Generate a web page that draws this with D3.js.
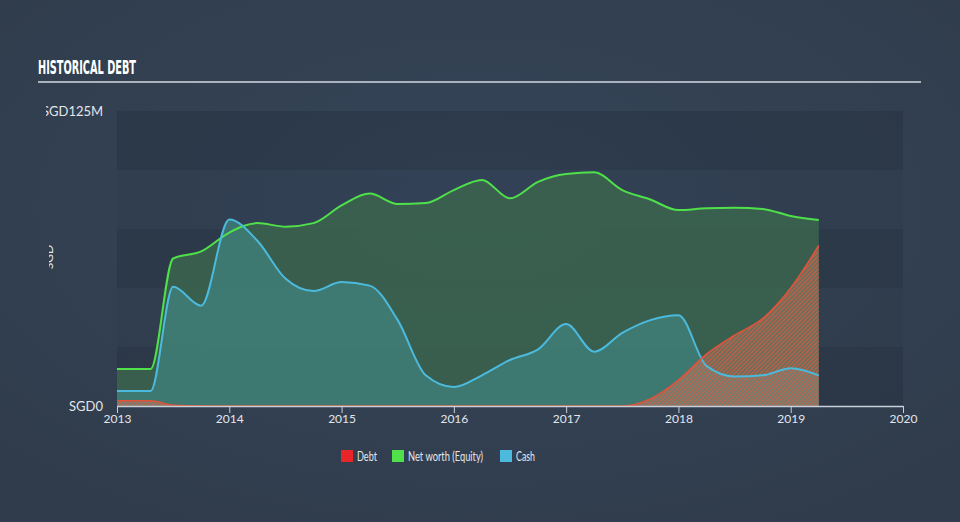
<!DOCTYPE html>
<html><head><meta charset="utf-8">
<script src="https://cdn.jsdelivr.net/npm/d3@7"></script>
<style>
html,body{margin:0;padding:0;background:#333f4f;}
svg{display:block;}
</style></head>
<body>
<svg id="c" width="960" height="522"></svg>
<script>
const dates = [2013.0,2013.25,2013.3,2013.5,2013.75,2014.0,2014.25,2014.5,2014.75,2015.0,2015.25,2015.5,2015.75,2016.0,2016.25,2016.5,2016.75,2017.0,2017.25,2017.5,2017.75,2018.0,2018.25,2018.5,2018.75,2019.0,2019.25];
const netWorth = [15.7,15.7,15.7,62.5,65.5,73.5,77.5,76,77.5,85,90,85.6,86,91.5,95.8,88,95,98.3,99,91.5,87.5,83,83.8,84,83.5,80.5,78.8];
const cash = [6.4,6.4,6.4,50.5,42.5,79,70,54,48.7,52.5,51,36.4,13,8,13,19.5,24,34.7,23,31,36.4,38.5,17,12.5,13,16,13];
const debt = [2.2,2.2,2.2,0.3,0,0,0,0,0,0,0,0,0,0,0,0,0,0,0,0,3,11,22,30,37,50,68];
const xTicks = [2013,2014,2015,2016,2017,2018,2019,2020];
const legendItems = ["Debt","Net worth (Equity)","Cash"];
const legendColors = ["#e8262a","#4fe04a","#4bbadd"];

const svg = d3.select("#c");
const W=960,H=522;
const defs = svg.append("defs");
const bg = defs.append("radialGradient").attr("id","bg").attr("cx","50%").attr("cy","40%").attr("r","70%");
bg.append("stop").attr("offset","0%").attr("stop-color","#36455a");
bg.append("stop").attr("offset","100%").attr("stop-color","#303c4b");
svg.append("rect").attr("width",W).attr("height",H).attr("fill","url(#bg)");

const pat = defs.append("pattern").attr("id","hatch").attr("patternUnits","userSpaceOnUse")
  .attr("width",3).attr("height",3).attr("patternTransform","rotate(45)");
pat.append("rect").attr("width",3).attr("height",3).attr("fill","rgba(150,150,140,0.35)");
pat.append("rect").attr("width",1.5).attr("height",3).attr("fill","rgba(232,90,55,0.75)");

const x = d3.scaleLinear().domain([2013,2020]).range([117,903]);
const y = d3.scaleLinear().domain([0,125]).range([406,111]);

// bands
const bands=[0,25,50,75,100];
svg.append("g").selectAll("rect").data(bands).join("rect")
  .attr("x",117).attr("width",786)
  .attr("y",d=>y(d+25)).attr("height",d=>y(d)-y(d+25))
  .attr("fill",(d,i)=> i%2===0 ? "rgba(30,38,50,0.28)" : "rgba(30,38,50,0.08)");

const curve = d3.curveMonotoneX;
const idx = d3.range(dates.length);
const area = arr => d3.area().x(i=>x(dates[i])).y0(y(0)).y1(i=>y(arr[i])).curve(curve);
const line = arr => d3.line().x(i=>x(dates[i])).y(i=>y(arr[i])).curve(curve);

svg.append("path").datum(idx).attr("d",area(netWorth)).attr("fill","#3b634f").attr("fill-opacity",0.9);
svg.append("path").datum(idx).attr("d",area(cash)).attr("fill","#40807a").attr("fill-opacity",0.8);
svg.append("path").datum(idx).attr("d",area(debt)).attr("fill","url(#hatch)");

svg.append("path").datum(idx).attr("d",line(netWorth)).attr("fill","none").attr("stroke","#4fe04a").attr("stroke-width",2);
svg.append("path").datum(idx).attr("d",line(cash)).attr("fill","none").attr("stroke","#4bbadd").attr("stroke-width",2);
svg.append("path").datum(idx).attr("d",line(debt)).attr("fill","none").attr("stroke","#e0533a").attr("stroke-width",1.6);

// x axis
const xa = svg.append("g").attr("transform","translate(0,406)")
  .call(d3.axisBottom(x).tickValues(xTicks).tickFormat(d3.format("d")).tickSize(7).tickSizeOuter(0));
xa.select(".domain").attr("stroke","#c8d0dc").attr("stroke-width",1.5);
xa.selectAll(".tick line").attr("stroke","#c8d0dc");
xa.selectAll("text").attr("fill","#e2e6ec").attr("font-size",12).attr("font-family","Lato, 'Open Sans', sans-serif").attr("dy","0.55em");

// y labels (left clipped)
defs.append("clipPath").attr("id","lclip").append("rect").attr("x",46).attr("y",0).attr("width",200).attr("height",522);
defs.append("clipPath").attr("id","lclip2").append("rect").attr("x",49).attr("y",0).attr("width",200).attr("height",522);
const yl = svg.append("g").attr("clip-path","url(#lclip)").attr("font-family","Lato, 'Open Sans', sans-serif").attr("fill","#e2e6ec");
yl.append("text").attr("x",42).attr("y",y(125)).attr("dy","0.35em").attr("font-size",13).text("SGD125M");
svg.append("g").attr("clip-path","url(#lclip2)").append("text").attr("transform","translate(53,257) rotate(-90)")
  .attr("text-anchor","middle").attr("font-size",12).attr("font-family","Lato, 'Open Sans', sans-serif").attr("fill","#e2e6ec").text("SGD");
svg.append("text").attr("x",103).attr("y",y(0)).attr("dy","0.35em").attr("text-anchor","end").attr("font-size",13)
  .attr("font-family","Lato, 'Open Sans', sans-serif").attr("fill","#e2e6ec").text("SGD0");

// title
svg.append("text").attr("x",38).attr("y",74).attr("font-family","'Liberation Sans Narrow','DejaVu Sans Condensed',sans-serif")
  .attr("font-weight","bold").attr("font-size",19).attr("fill","#ffffff")
  .attr("textLength",98).attr("lengthAdjust","spacingAndGlyphs").text("HISTORICAL DEBT");
svg.append("line").attr("x1",38).attr("x2",921).attr("y1",82).attr("y2",82).attr("stroke","#aab2be").attr("stroke-width",2);

// legend
const lx=[341,392,500];
const lw=[20,75,19];
const lg = svg.append("g").attr("font-family","Lato, 'Open Sans', sans-serif").attr("font-size",13);
legendItems.forEach((t,i)=>{
  lg.append("rect").attr("x",lx[i]).attr("y",450).attr("width",12).attr("height",12).attr("fill",legendColors[i]);
  lg.append("text").attr("x",lx[i]+16).attr("y",456).attr("dy","0.35em").attr("fill","#e2e6ec")
    .attr("textLength",lw[i]).attr("lengthAdjust","spacingAndGlyphs").text(t);
});
</script>
</body></html>
